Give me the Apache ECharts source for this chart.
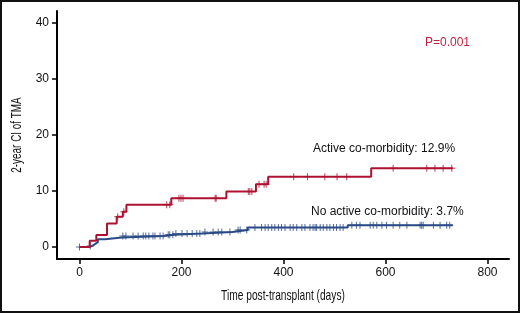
<!DOCTYPE html>
<html>
<head>
<meta charset="utf-8">
<script src="https://cdn.jsdelivr.net/npm/echarts@6/dist/echarts.min.js"></script>
<style>
html,body{margin:0;padding:0;background:#fff;}
#chart{width:520px;height:313px;}
</style>
</head>
<body>
<div id="chart"></div>
<script>
// ---- data ----
var xTicks = [0, 200, 400, 600, 800];
var yTicks = [0, 10, 20, 30, 40];
var xTitle = 'Time post-transplant (days)';
var yTitle = '2-year CI of TMA';

// Active co-morbidity (red): step times (days) and cumulative incidence (%)
var activeDays = [0, 20, 33, 54, 73, 85, 92, 180, 288, 346, 370, 572];
var activeVals = [0, 1.1, 2.15, 4.2, 5.4, 6.3, 7.55, 8.7, 9.9, 11.2, 12.55, 14.05];
var activeEnd = 732;
var activeCensor = [75, 87, 171, 177, 195, 199, 203, 266, 268, 331, 334, 338, 352, 362, 366, 420, 447, 481, 505, 524, 615, 681, 697, 713, 730];

// No active co-morbidity (blue)
var noActiveDays = [0, 19, 25, 30, 36, 50, 83, 165, 185, 241, 300, 330, 526];
var noActiveVals = [0, 0.2, 0.5, 0.85, 1.4, 1.7, 1.95, 2.2, 2.4, 2.7, 3.05, 3.5, 3.9];
var noActiveEnd = 732;
var noActiveCensor = [0, 21, 85, 91, 105, 115, 125, 130, 136, 144, 148, 158, 164, 174, 177, 183, 189, 201, 211, 221, 230, 236, 246, 262, 272, 279, 295, 311, 315, 328, 344, 357, 364, 370, 377, 383, 390, 396, 403, 413, 419, 426, 436, 442, 452, 458, 462, 465, 472, 478, 485, 491, 498, 504, 511, 517, 534, 543, 550, 570, 576, 583, 593, 602, 615, 628, 642, 668, 671, 674, 694, 707, 720, 726];

var pValueText = 'P=0.001';
var activeLabel = 'Active co-morbidity: 12.9%';
var noActiveLabel = 'No active co-morbidity: 3.7%';

// ---- build ----
function stepData(days, vals, end) {
  var d = days.map(function (t, i) { return [t, vals[i]]; });
  d.push([end, vals[vals.length - 1]]);
  return d;
}
function censorData(cens, days, vals) {
  return cens.map(function (t) {
    var v = vals[0];
    for (var i = 0; i < days.length; i++) { if (days[i] <= t) v = vals[i]; }
    return [t, v];
  });
}

var RED = '#ad1232';
var BLUE = '#2a4a86';
var plus = 'path://M3,0h1v3h3v1h-3v3h-1v-3h-3v-1h3z';
var FONT = 'Liberation Sans, Arial, Helvetica, sans-serif';

var chart = echarts.init(document.getElementById('chart'), null, {renderer: 'canvas'});
chart.setOption({
  animation: false,
  backgroundColor: '#fff',
  grid: {left: 57, right: 11, top: 11, bottom: 54, containLabel: false},
  xAxis: {
    type: 'value', min: -44.1, max: 842.2,
    axisLine: {onZero: false, lineStyle: {color: '#000', width: 2}},
    axisTick: {customValues: xTicks, length: 5, lineStyle: {color: '#000', width: 1.5}},
    axisLabel: {customValues: xTicks, margin: 8, fontFamily: FONT, fontSize: 12, color: '#111'},
    splitLine: {show: false}
  },
  yAxis: {
    type: 'value', min: -2.14, max: 42.14,
    axisLine: {onZero: false, lineStyle: {color: '#000', width: 2}},
    axisTick: {customValues: yTicks, length: 5, lineStyle: {color: '#000', width: 1.5}},
    axisLabel: {customValues: yTicks, margin: 8, fontFamily: FONT, fontSize: 12, color: '#111'},
    splitLine: {show: false}
  },
  series: [
    {type: 'line', name: 'No active', step: 'end', showSymbol: false, data: stepData(noActiveDays, noActiveVals, noActiveEnd), lineStyle: {color: BLUE, width: 2}, z: 2},
    {type: 'scatter', data: censorData(noActiveCensor, noActiveDays, noActiveVals), symbol: plus, symbolSize: 7, itemStyle: {color: BLUE}, z: 3},
    {type: 'line', name: 'Active', step: 'end', showSymbol: false, data: stepData(activeDays, activeVals, activeEnd), lineStyle: {color: RED, width: 2}, z: 4},
    {type: 'scatter', data: censorData(activeCensor, activeDays, activeVals), symbol: plus, symbolSize: 7, itemStyle: {color: RED}, z: 5}
  ],
  graphic: [
    {type: 'rect', shape: {x: 1, y: 1, width: 518, height: 311}, style: {fill: null, stroke: '#111', lineWidth: 2}, silent: true},
    {type: 'text', left: 425, top: 37, style: {text: pValueText, fill: '#c0223f', font: '12px ' + FONT}},
    {type: 'text', left: 313, top: 143, style: {text: activeLabel, fill: '#111', font: '12px ' + FONT}},
    {type: 'text', left: 311, top: 206, style: {text: noActiveLabel, fill: '#111', font: '12px ' + FONT}},
    {type: 'text', x: 283, y: 296, scaleX: 0.68, style: {text: xTitle, fill: '#111', font: '15px ' + FONT, align: 'center', verticalAlign: 'middle', textAlign: 'center', textVerticalAlign: 'middle'}},
    {type: 'text', x: 17, y: 135, rotation: Math.PI / 2, scaleX: 0.66, style: {text: yTitle, fill: '#111', font: '15px ' + FONT, align: 'center', verticalAlign: 'middle', textAlign: 'center', textVerticalAlign: 'middle'}}
  ]
});
</script>
</body>
</html>
